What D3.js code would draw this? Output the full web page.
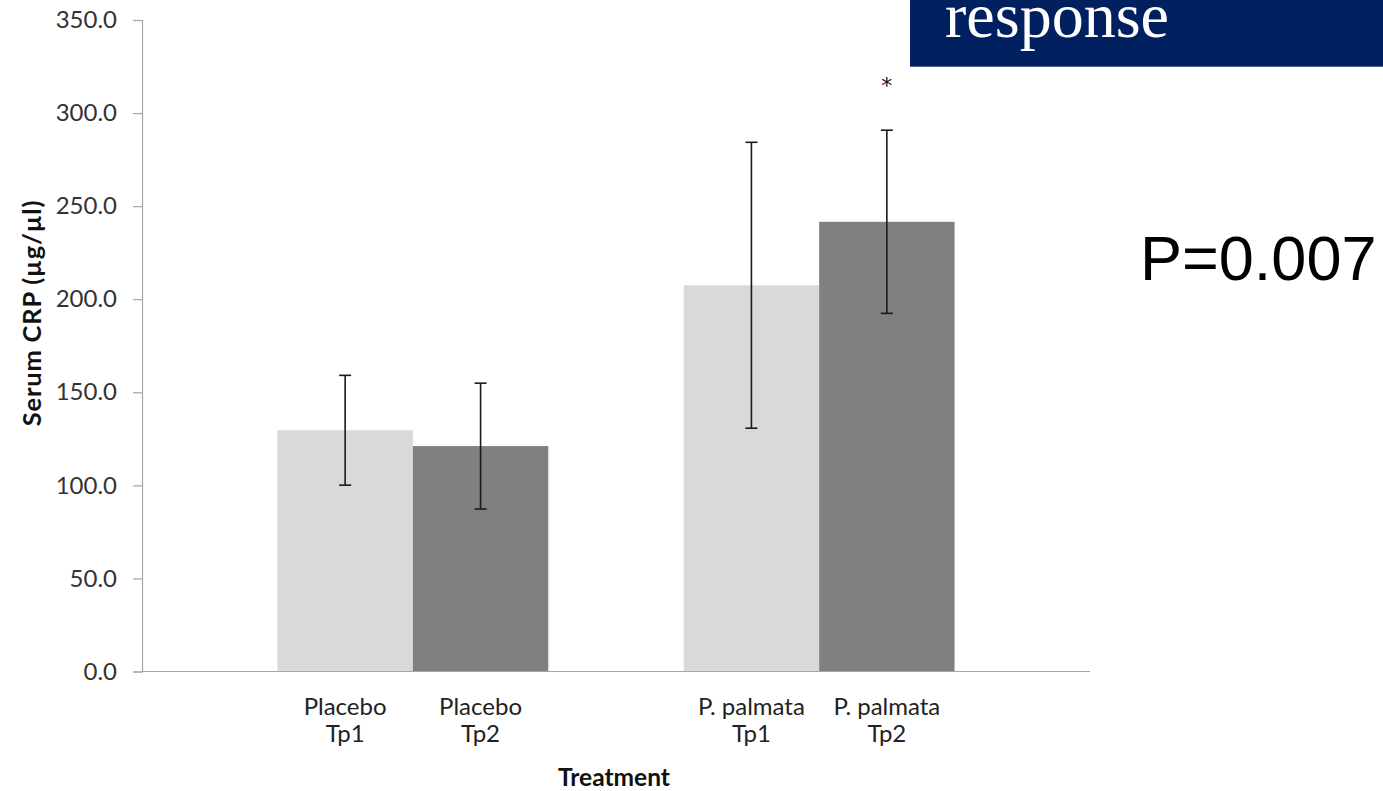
<!DOCTYPE html>
<html>
<head>
<meta charset="utf-8">
<script src="https://cdn.jsdelivr.net/npm/d3@7"></script>
<style>
  html, body { margin: 0; padding: 0; background: #fff; }
  svg { display: block; }
</style>
</head>
<body>
<svg id="chart" width="1383" height="791"></svg>
<script>
// Serum CRP by treatment group and time point (mean ± error)
const groups = ["Placebo", "P. palmata"];
const timepoints = ["Tp1", "Tp2"];
const placeboMeans = [129.6, 121.1];
const placeboErrors = [29.5, 33.8];
const palmataMeans = [207.5, 241.6];
const palmataErrors = [76.8, 49.2];
const significant = [["P. palmata", "Tp2"]];
const yTicks = [0, 50, 100, 150, 200, 250, 300, 350];

const seriesColors = { Tp1: "#d9d9d9", Tp2: "#808080" };

const rows = [];
groups.forEach((g, gi) => {
  const means = gi === 0 ? placeboMeans : palmataMeans;
  const errs = gi === 0 ? placeboErrors : palmataErrors;
  timepoints.forEach((t, ti) => rows.push({ group: g, tp: t, mean: means[ti], err: errs[ti] }));
});

const svg = d3.select("#chart");
const plot = { left: 142, right: 1090, top: 20, bottom: 671.5 };

const x0 = d3.scaleBand().domain(groups).range([plot.left, plot.right])
  .paddingInner(1 / 3).paddingOuter(1 / 3);
const x1 = d3.scaleBand().domain(timepoints).range([0, x0.bandwidth()]);
const y = d3.scaleLinear().domain([0, 350]).range([plot.bottom, plot.top]);

const font = "Lato, 'Open Sans', sans-serif";

// bars
svg.append("g").selectAll("rect").data(rows).join("rect")
  .attr("x", d => x0(d.group) + x1(d.tp))
  .attr("y", d => y(d.mean))
  .attr("width", x1.bandwidth())
  .attr("height", d => y(0) - y(d.mean))
  .attr("fill", d => seriesColors[d.tp]);

// y axis
const yAxis = svg.append("g")
  .attr("transform", `translate(${plot.left},0)`)
  .call(d3.axisLeft(y).tickValues(yTicks).tickFormat(d3.format(".1f"))
    .tickSize(9).tickPadding(16));
yAxis.select(".domain").attr("stroke", "#a6a6a6").attr("stroke-width", 1.2);
yAxis.selectAll(".tick line").attr("stroke", "#a6a6a6").attr("stroke-width", 1.2);
yAxis.selectAll(".tick text")
  .attr("font-family", font).attr("font-size", 24).attr("fill", "#333");

// x axis baseline
svg.append("line")
  .attr("x1", plot.left).attr("x2", plot.right)
  .attr("y1", y(0)).attr("y2", y(0))
  .attr("stroke", "#a6a6a6").attr("stroke-width", 1.2);

// error bars
const cap = 6;
const eb = svg.append("g").attr("stroke", "#1a1a1a").attr("stroke-width", 1.6);
rows.forEach(d => {
  const cx = x0(d.group) + x1(d.tp) + x1.bandwidth() / 2;
  const yt = y(d.mean + d.err), yb = y(d.mean - d.err);
  eb.append("line").attr("x1", cx).attr("x2", cx).attr("y1", yt).attr("y2", yb);
  eb.append("line").attr("x1", cx - cap).attr("x2", cx + cap).attr("y1", yt).attr("y2", yt);
  eb.append("line").attr("x1", cx - cap).attr("x2", cx + cap).attr("y1", yb).attr("y2", yb);
});

// significance marker
significant.forEach(([g, t]) => {
  const d = rows.find(r => r.group === g && r.tp === t);
  svg.append("text")
    .attr("x", x0(g) + x1(t) + x1.bandwidth() / 2)
    .attr("y", y(d.mean + d.err) - 37)
    .attr("text-anchor", "middle")
    .attr("font-family", "'DejaVu Sans', sans-serif").attr("font-size", 22).attr("fill", "#111")
    .text("*");
});

// category labels (two lines)
const catLabels = svg.append("g").attr("font-family", font).attr("font-size", 24)
  .attr("fill", "#222").attr("text-anchor", "middle");
rows.forEach(d => {
  const cx = x0(d.group) + x1(d.tp) + x1.bandwidth() / 2;
  const t = catLabels.append("text").attr("x", cx).attr("y", 715);
  t.append("tspan").attr("x", cx).text(d.group);
  t.append("tspan").attr("x", cx).attr("dy", 26.5).text(d.tp);
});

// axis titles
svg.append("text")
  .attr("x", 614).attr("y", 786)
  .attr("text-anchor", "middle")
  .attr("font-family", font).attr("font-size", 24.5).attr("font-weight", "bold").attr("fill", "#111")
  .text("Treatment");

svg.append("text")
  .attr("transform", "translate(41,313) rotate(-90)")
  .attr("text-anchor", "middle")
  .attr("font-family", font).attr("font-size", 25.5).attr("font-weight", "bold")
  .attr("letter-spacing", 0.8).attr("fill", "#111")
  .text("Serum CRP (µg/µl)");

// slide title band
svg.append("rect")
  .attr("x", 910).attr("y", 0).attr("width", 473).attr("height", 66.7)
  .attr("fill", "#002060");
svg.append("text")
  .attr("x", 945).attr("y", 37)
  .attr("font-family", "'Liberation Serif', 'Times New Roman', serif")
  .attr("font-size", 64).attr("fill", "#fff")
  .text("response");

// p-value annotation
svg.append("text")
  .attr("x", 1140).attr("y", 280)
  .attr("font-family", "'Liberation Sans', Arial, sans-serif")
  .attr("font-size", 63).attr("fill", "#000")
  .text("P=0.007");
</script>
</body>
</html>
